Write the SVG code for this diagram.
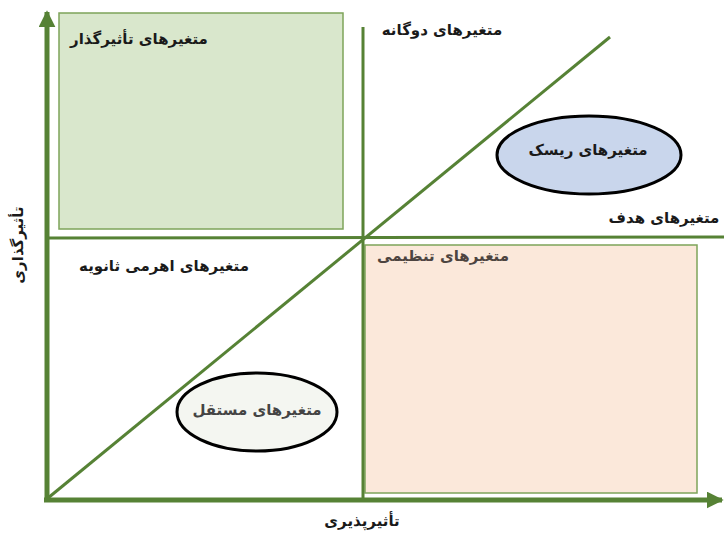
<svg xmlns="http://www.w3.org/2000/svg" width="724" height="533" viewBox="0 0 724 533">
  <defs>
    <marker id="arrow" viewBox="0 0 10 10" refX="9" refY="5" markerWidth="3.4" markerHeight="3.4" orient="auto" markerUnits="strokeWidth">
      <path d="M0,0 L10,5 L0,10 Z" fill="#568235"/>
    </marker>
    <style>
      .lbl { font-family: "DejaVu Sans", "Noto Sans", sans-serif; font-weight: bold; font-size: 15px; fill: #1a1a1a; text-anchor: middle; dominant-baseline: central; direction: rtl; }
      .grey { fill: #444444; }
      .brown { fill: #4d4440; }
      .axis { stroke: #568235; stroke-width: 5; fill: none; }
      .guide { stroke: #568235; stroke-width: 3; fill: none; }
      .oval { stroke: #000; stroke-width: 3; }
    </style>
  </defs>

  <rect width="724" height="533" fill="#ffffff"/>

  <!-- quadrant zones -->
  <g id="zone-influential">
    <rect x="59" y="13" width="284" height="216" fill="#d9e7cc" stroke="#7ea45a" stroke-width="1.5"/>
    <text class="lbl" x="139" y="39">متغیرهای تأثیرگذار</text>
  </g>
  <g id="zone-regulatory">
    <rect x="365" y="245" width="332" height="248" fill="#fbe8da" stroke="#7ea45a" stroke-width="1.5"/>
    <text class="lbl brown" x="443" y="256">متغیرهای تنظیمی</text>
  </g>

  <!-- axes and guide lines -->
  <g id="connectors">
    <line class="guide" x1="363" y1="27" x2="363" y2="500"/>
    <line class="guide" x1="48" y1="238" x2="724" y2="237"/>
    <line class="guide" x1="48" y1="498" x2="610" y2="37"/>
    <line class="axis" x1="47" y1="500" x2="47" y2="12" marker-end="url(#arrow)"/>
    <line class="axis" x1="44" y1="500" x2="722" y2="500" marker-end="url(#arrow)"/>
  </g>

  <g id="label-dual">
    <text class="lbl" x="442" y="30">متغیرهای دوگانه</text>
  </g>
  <g id="label-target">
    <text class="lbl" x="664" y="218">متغیرهای هدف</text>
  </g>
  <g id="label-secondary-lever">
    <text class="lbl" x="164" y="266">متغیرهای اهرمی ثانویه</text>
  </g>

  <g id="node-risk">
    <ellipse class="oval" cx="589" cy="155" rx="92" ry="39" fill="#c9d6ec"/>
    <text class="lbl" x="588" y="150">متغیرهای ریسک</text>
  </g>
  <g id="node-independent">
    <ellipse class="oval" cx="257" cy="412" rx="80" ry="39" fill="#f4f6f1"/>
    <text class="lbl grey" x="257" y="410">متغیرهای مستقل</text>
  </g>

  <!-- axis titles -->
  <g id="axis-x-title">
    <text class="lbl" x="362" y="521">تأثیرپذیری</text>
  </g>
  <g id="axis-y-title">
    <text class="lbl" transform="translate(18,245) rotate(-90)" x="0" y="0">تأثیرگذاری</text>
  </g>
</svg>
